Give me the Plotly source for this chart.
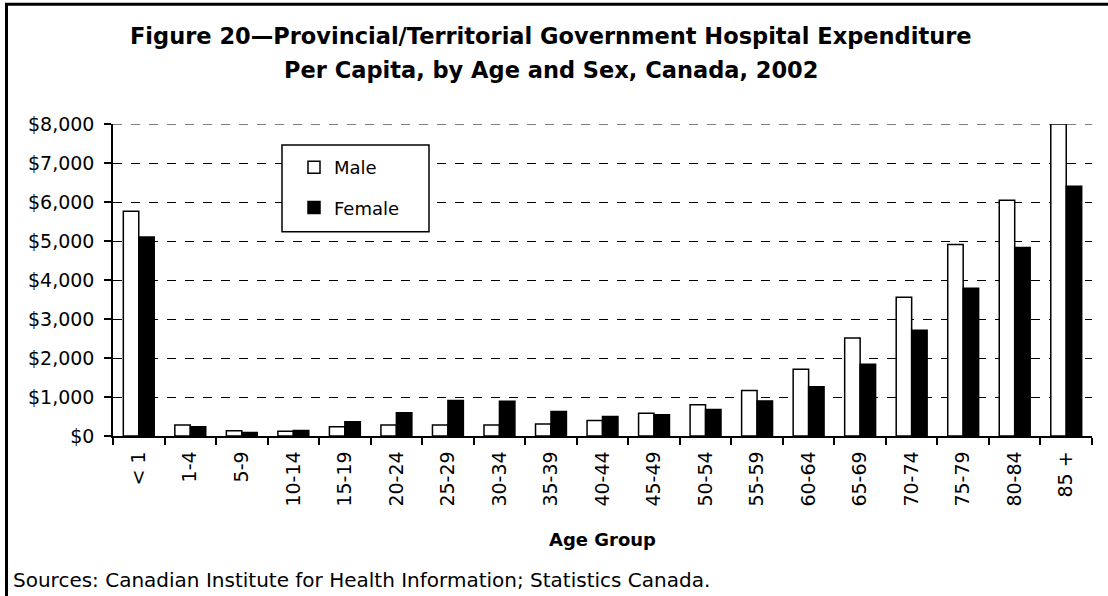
import plotly.graph_objects as go

age_groups = ["< 1", "1-4", "5-9", "10-14", "15-19", "20-24", "25-29", "30-34", "35-39",
              "40-44", "45-49", "50-54", "55-59", "60-64", "65-69", "70-74", "75-79", "80-84", "85 +"]
male = [5760, 280, 135, 125, 235, 280, 280, 280, 310, 400, 585, 800, 1165, 1710, 2515, 3560, 4910, 6045, 8000]
female = [5100, 240, 90, 140, 365, 595, 910, 890, 630, 500, 545, 680, 900, 1260, 1840, 2710, 3790, 4835, 6405]
y_ticks = [0, 1000, 2000, 3000, 4000, 5000, 6000, 7000, 8000]
y_ticktext = ["$" + format(v, ",") for v in y_ticks]

W, H = 1108, 596
L, R, T, B = 113, 1092, 124, 436.5

def px_x(x):
    return (x - L) / (R - L)

def px_y(y):
    return (B - y) / (B - T)

FONT = "DejaVu Sans"

fig = go.Figure()
fig.add_trace(go.Bar(x=age_groups, y=male, name="Male", legendgroup="m",
                     marker=dict(color="white", line=dict(color="black", width=1.5))))
fig.add_trace(go.Bar(x=age_groups, y=female, name="Female", legendgroup="f",
                     marker=dict(color="black", line=dict(color="black", width=1.5))))

fig.update_layout(
    width=W, height=H,
    margin=dict(l=L, r=W - R, t=T, b=H - B, pad=0),
    paper_bgcolor="white", plot_bgcolor="white",
    barmode="group", bargap=0.4, bargroupgap=0,
    font=dict(family=FONT, size=18, color="black"),
    showlegend=True,
    legend=dict(x=px_x(294), y=px_y(149), xanchor="left", yanchor="top",
                bgcolor="rgba(0,0,0,0)", borderwidth=0,
                traceorder="grouped", tracegroupgap=14,
                font=dict(family=FONT, size=18)),
    xaxis=dict(showline=True, linecolor="black", linewidth=1.5,
               ticks="outside", ticklen=7, tickwidth=1.5, tickcolor="black",
               tickson="boundaries", tickangle=-90, showgrid=False,
               ticklabelstandoff=6,
               tickfont=dict(family=FONT, size=19)),
    yaxis=dict(range=[0, 8000], tickmode="array", tickvals=y_ticks, ticktext=y_ticktext,
               showline=True, linecolor="black", linewidth=1.5,
               ticks="outside", ticklen=7, tickwidth=1.5, tickcolor="black",
               showgrid=True, gridcolor="black", gridwidth=1, griddash="dash",
               ticklabelstandoff=6,
               zeroline=False, tickfont=dict(family=FONT, size=19)),
)

# top gridline at the axis maximum (plotly omits it at the range edge)
fig.add_shape(type="line", xref="paper", yref="y", layer="below",
              x0=0, x1=1, y0=y_ticks[-1], y1=y_ticks[-1],
              line=dict(color="black", width=1, dash="dash"))

# legend box (white filled, covers gridlines)
fig.add_shape(type="rect", xref="paper", yref="paper", layer="above",
              x0=px_x(282), x1=px_x(429), y0=px_y(232), y1=px_y(145),
              line=dict(color="black", width=1.5), fillcolor="white")

# outer frame (left and top lines)
fig.add_shape(type="line", xref="paper", yref="paper",
              x0=px_x(6.5), x1=px_x(6.5), y0=px_y(600), y1=px_y(4),
              line=dict(color="black", width=3))
fig.add_shape(type="line", xref="paper", yref="paper",
              x0=px_x(5), x1=px_x(1110), y0=px_y(4), y1=px_y(4),
              line=dict(color="black", width=3))

title1 = "Figure 20\u2014Provincial/Territorial Government Hospital Expenditure"
title2 = "Per Capita, by Age and Sex, Canada, 2002"
for txt, yy in [(title1, 36), (title2, 70)]:
    fig.add_annotation(text="<b>" + txt + "</b>", xref="paper", yref="paper",
                       x=px_x(551), y=px_y(yy), xanchor="center", yanchor="middle",
                       showarrow=False, font=dict(family="DejaVu Sans", size=22.5, color="black"))

fig.add_annotation(text="<b>Age Group</b>", xref="paper", yref="paper",
                   x=px_x(602), y=px_y(540), xanchor="center", yanchor="middle",
                   showarrow=False, font=dict(family="DejaVu Sans", size=18, color="black"))

fig.add_annotation(text="Sources: Canadian Institute for Health Information; Statistics Canada.",
                   xref="paper", yref="paper", x=px_x(11), y=px_y(581),
                   xanchor="left", yanchor="middle", showarrow=False,
                   font=dict(family=FONT, size=20, color="black"))

fig.write_html("out.html", post_script="document.body.style.margin='0';",
               config={"displayModeBar": False})
